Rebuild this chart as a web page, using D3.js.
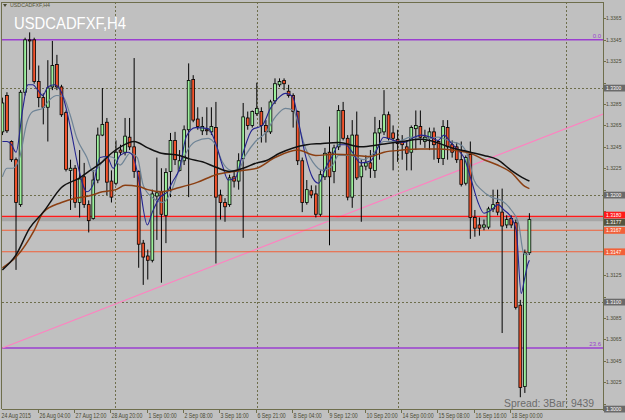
<!DOCTYPE html>
<html><head><meta charset="utf-8">
<script src="https://cdn.jsdelivr.net/npm/d3@7"></script>
<style>html,body{margin:0;padding:0;background:#C0C0C0;overflow:hidden}svg{display:block}</style>
</head><body><svg id="c" width="625" height="420"></svg>
<script>
const symbol = "USDCADFXF,H4";
const open = [1.3259,1.3293,1.3250,1.3233,1.3191,1.3296,1.3345,1.3345,1.3306,1.3291,
1.3282,1.3301,1.3322,1.3301,1.3277,1.3223,1.3225,1.3193,1.3217,1.3191,
1.3178,1.3214,1.3256,1.3268,1.3213,1.3211,1.3242,1.3240,1.3254,1.3245,
1.3222,1.3155,1.3143,1.3139,1.3199,1.3203,1.3181,1.3222,1.3251,1.3223,
1.3232,1.3261,1.3308,1.3271,1.3260,1.3261,1.3259,1.3263,1.3200,1.3193,
1.3191,1.3217,1.3213,1.3234,1.3272,1.3265,1.3276,1.3278,1.3265,1.3259,
1.3288,1.3303,1.3307,1.3297,1.3293,1.3278,1.3232,1.3193,1.3204,1.3201,
1.3182,1.3217,1.3240,1.3222,1.3245,1.3279,1.3253,1.3198,1.3256,1.3217,
1.3227,1.3230,1.3223,1.3258,1.3259,1.3275,1.3258,1.3252,1.3250,1.3245,
1.3240,1.3262,1.3264,1.3250,1.3253,1.3259,1.3250,1.3234,1.3263,1.3247,
1.3245,1.3233,1.3211,1.3238,1.3179,1.3172,1.3170,1.3170,1.3187,1.3193,
1.3184,1.3172,1.3178,1.3174,1.3097,1.3021,1.3146];
const high = [1.3291,1.3296,1.3251,1.3235,1.3298,1.3347,1.3352,1.3347,1.3321,1.3295,
1.3326,1.3344,1.3331,1.3303,1.3279,1.3233,1.3228,1.3242,1.3230,1.3195,
1.3223,1.3263,1.3300,1.3272,1.3223,1.3251,1.3247,1.3272,1.3272,1.3328,
1.3223,1.3158,1.3149,1.3205,1.3235,1.3225,1.3225,1.3258,1.3259,1.3242,
1.3265,1.3323,1.3312,1.3282,1.3273,1.3282,1.3282,1.3287,1.3205,1.3197,
1.3219,1.3222,1.3239,1.3286,1.3278,1.3279,1.3305,1.3282,1.3270,1.3289,
1.3309,1.3309,1.3309,1.3303,1.3295,1.3279,1.3235,1.3214,1.3209,1.3209,
1.3223,1.3244,1.3264,1.3247,1.3284,1.3287,1.3256,1.3270,1.3278,1.3233,
1.3237,1.3242,1.3273,1.3270,1.3298,1.3278,1.3265,1.3261,1.3256,1.3251,
1.3265,1.3279,1.3279,1.3261,1.3263,1.3263,1.3251,1.3270,1.3270,1.3251,
1.3249,1.3250,1.3237,1.3250,1.3186,1.3179,1.3177,1.3189,1.3205,1.3205,
1.3206,1.3181,1.3181,1.3177,1.3102,1.3149,1.3183];
const low = [1.3256,1.3258,1.3231,1.3130,1.3189,1.3293,1.3317,1.3304,1.3282,1.3266,
1.3250,1.3298,1.3298,1.3273,1.3222,1.3186,1.3188,1.3179,1.3188,1.3165,
1.3177,1.3211,1.3255,1.3200,1.3193,1.3209,1.3237,1.3237,1.3242,1.3216,
1.3132,1.3116,1.3121,1.3137,1.3158,1.3118,1.3155,1.3198,1.3228,1.3222,
1.3228,1.3198,1.3268,1.3261,1.3256,1.3256,1.3256,1.3136,1.3177,1.3175,
1.3189,1.3207,1.3205,1.3160,1.3261,1.3263,1.3274,1.3249,1.3249,1.3257,
1.3285,1.3301,1.3298,1.3291,1.3263,1.3228,1.3184,1.3191,1.3197,1.3179,
1.3180,1.3214,1.3153,1.3211,1.3242,1.3251,1.3195,1.3188,1.3214,1.3175,
1.3223,1.3216,1.3216,1.3233,1.3256,1.3251,1.3223,1.3231,1.3233,1.3223,
1.3223,1.3242,1.3247,1.3244,1.3242,1.3233,1.3230,1.3228,1.3233,1.3235,
1.3230,1.3208,1.3209,1.3159,1.3161,1.3162,1.3167,1.3168,1.3184,1.3181,
1.3071,1.3169,1.3169,1.3093,1.3011,1.3015,1.3144];
const close = [1.3286,1.3260,1.3233,1.3193,1.3296,1.3345,1.3344,1.3306,1.3291,1.3282,
1.3300,1.3321,1.3301,1.3275,1.3224,1.3225,1.3193,1.3215,1.3191,1.3176,
1.3214,1.3256,1.3266,1.3212,1.3198,1.3240,1.3240,1.3255,1.3245,1.3222,
1.3154,1.3142,1.3139,1.3201,1.3202,1.3182,1.3221,1.3251,1.3233,1.3232,
1.3261,1.3307,1.3270,1.3264,1.3264,1.3260,1.3264,1.3198,1.3193,1.3189,
1.3216,1.3213,1.3232,1.3273,1.3265,1.3278,1.3281,1.3265,1.3259,1.3287,
1.3304,1.3306,1.3304,1.3293,1.3278,1.3232,1.3193,1.3205,1.3200,1.3182,
1.3219,1.3239,1.3217,1.3244,1.3279,1.3253,1.3198,1.3256,1.3216,1.3227,
1.3230,1.3225,1.3258,1.3262,1.3275,1.3253,1.3253,1.3248,1.3247,1.3239,
1.3263,1.3265,1.3254,1.3254,1.3259,1.3247,1.3234,1.3264,1.3245,1.3240,
1.3233,1.3210,1.3235,1.3179,1.3169,1.3169,1.3172,1.3187,1.3191,1.3184,
1.3171,1.3177,1.3172,1.3095,1.3020,1.3146,1.3177];

// moving averages: [bar index, price]
const maSlow = [[0,1.3130],[3,1.3144],[6,1.3169],[9,1.3184],[13,1.3207],[17,1.3216],[19,1.3222],[22,1.3231],[24,1.3239],[26,1.3245],[29,1.3250],[32,1.3244],[35,1.3239],[39,1.3237],[41,1.3234],[44,1.3231],[47,1.3226],[50,1.3222],[53,1.3225],[56,1.3230],[58,1.3232],[61,1.3239],[64,1.3244],[67,1.3247],[70,1.3248],[74,1.3249],[79,1.3245],[83,1.3247],[88,1.3250],[92,1.3252],[94,1.3251],[99,1.3244],[103,1.3240],[106,1.3237],[109,1.3233],[112,1.3223],[115,1.3215],[116,1.3213]];
const maBrown = [[0,1.3132],[3,1.3142],[7,1.3167],[9,1.3184],[13,1.3193],[16,1.3197],[19,1.3199],[22,1.3203],[25,1.3205],[27,1.3209],[30,1.3208],[32,1.3205],[35,1.3203],[39,1.3207],[43,1.3212],[47,1.3219],[51,1.3222],[56,1.3225],[60,1.3235],[65,1.3242],[69,1.3237],[73,1.3238],[78,1.3237],[81,1.3236],[84,1.3240],[88,1.3242],[92,1.3243],[96,1.3243],[99,1.3242],[103,1.3239],[106,1.3233],[109,1.3228],[112,1.3221],[115,1.3208],[116,1.3206]];
const maFast = [[0,1.3250],[1,1.3250],[2,1.3247],[3,1.3240],[4.5,1.3281],[5.6,1.3303],[6.7,1.3303],[7.8,1.3298],[8.9,1.3293],[10,1.3301],[11.5,1.3303],[13,1.3296],[14.2,1.3278],[15.3,1.3256],[16.6,1.3228],[18.6,1.3203],[19.9,1.3209],[21.5,1.3235],[23,1.3236],[24.4,1.3225],[25.9,1.3237],[27.7,1.3240],[28.8,1.3236],[29.9,1.3217],[31.9,1.3172],[33,1.3184],[34.7,1.3198],[36.3,1.3203],[37.4,1.3212],[39,1.3225],[40.5,1.3255],[42.5,1.3263],[45.3,1.3262],[46.9,1.3249],[48.4,1.3228],[49.7,1.3214],[51.3,1.3216],[52.8,1.3237],[55,1.3261],[57.2,1.3265],[59,1.3281],[60.8,1.3291],[62.3,1.3295],[63.9,1.3292],[65.2,1.3268],[66.7,1.3237],[68.3,1.3216],[69.6,1.3211],[71.2,1.3226],[72.7,1.3237],[74,1.3247],[75.6,1.3247],[76.7,1.3242],[78.9,1.3230],[81.1,1.3232],[82.6,1.3244],[83.9,1.3254],[86.2,1.3251],[88.4,1.3249],[90.6,1.3254],[92.1,1.3256],[94.3,1.3254],[95.9,1.3251],[97.2,1.3256],[98.7,1.3249],[100.3,1.3242],[101.6,1.3235],[103.2,1.3214],[104.7,1.3193],[106,1.3183],[107.6,1.3186],[109.1,1.3191],[110.4,1.3186],[112,1.3179],[113.1,1.3167],[114.2,1.3108],[114.9,1.3121],[115.7,1.3136],[116,1.3139]];
const maMid = [[0,1.3217],[1,1.3225],[2.3,1.3225],[3.8,1.3235],[5.4,1.3268],[6.7,1.3278],[8.9,1.3281],[10.4,1.3289],[12,1.3293],[13.3,1.3292],[14.9,1.3275],[16.4,1.3253],[18.6,1.3235],[19.9,1.3222],[21.5,1.3228],[23,1.3236],[24.4,1.3235],[25.9,1.3228],[28.1,1.3239],[29.7,1.3235],[31,1.3209],[33.2,1.3197],[35.4,1.3193],[37,1.3202],[39,1.3225],[40.5,1.3240],[42.5,1.3250],[45.3,1.3253],[46.9,1.3247],[48.4,1.3231],[50.2,1.3223],[51.7,1.3222],[53.5,1.3237],[55.7,1.3250],[57.9,1.3258],[60.1,1.3273],[62.3,1.3281],[64.1,1.3279],[65.2,1.3265],[66.7,1.3244],[68.3,1.3231],[70.5,1.3223],[72.7,1.3228],[74,1.3237],[76.5,1.3237],[79.5,1.3233],[81.7,1.3239],[83.9,1.3250],[87,1.3250],[89.9,1.3254],[92.8,1.3252],[95.9,1.3254],[98.7,1.3250],[100.9,1.3247],[102.5,1.3236],[103.8,1.3214],[105.4,1.3205],[107.6,1.3198],[109.8,1.3195],[112,1.3186],[113.6,1.3174],[114.7,1.3146],[115.4,1.3144],[116,1.3146]];

const dateLabels = ["24 Aug 2015","26 Aug 04:00","27 Aug 12:00","28 Aug 20:00","1 Sep 00:00","2 Sep 08:00","3 Sep 16:00","6 Sep 21:00","8 Sep 04:00","9 Sep 12:00","10 Sep 20:00","14 Sep 00:00","15 Sep 08:00","16 Sep 16:00","18 Sep 00:00"];
const dateBars = [0,8,16,24,32,40,48,56,64,72,80,88,96,104,112];
const priceTicks = [1.3005,1.3025,1.3045,1.3065,1.3085,1.3105,1.3125,1.3145,1.3165,1.3185,1.3205,1.3225,1.3245,1.3265,1.3285,1.3305,1.3325,1.3345,1.3365];
const roundLevels = [1.3300,1.3200,1.3100,1.3000];
const gridBars = [24.8,56,87,124];
const fibLevels = [{name:"0.0",price:1.3345},{name:"23.6",price:1.3057}];
const trendBars = [0,132.5], trendPrices = [1.3057,1.3276];
const hLines = [
  {price:1.3167,label:"1.3167",color:"#F26139",w:1.1,bg:"#F26139",dy:0},
  {price:1.3147,label:"1.3147",color:"#F26139",w:1.1,bg:"#F26139",dy:0},
  {price:1.3180,label:"1.3180",color:"#FF1A1A",w:1.5,bg:"#FF1A1A",dy:-1.4},
  {price:1.3177,label:"1.3177",color:"#A6A6A6",w:3.5,bg:"#55553F",dy:2.6}
];
const spreadText = "Spread: 3", barText = "Bar: 9439";

const svg = d3.select("#c");
const W=625,H=420, L=2, R=603, T=2, B=409;
const x = d3.scaleLinear().domain([0,116]).range([2.4,529.4]);
const y = d3.scaleLinear().domain([1.30,1.34]).range([409,-19]);
const olive = "#6E6E4C";

svg.append("rect").attr("width",W).attr("height",H).attr("fill","#C0C0C0");
svg.append("defs").append("clipPath").attr("id","clip").append("rect")
  .attr("x",L).attr("y",T).attr("width",R-L).attr("height",B-T);
const plot = svg.append("g").attr("clip-path","url(#clip)");

// grid
plot.selectAll(".hg").data(roundLevels.slice(0,3)).enter().append("line")
  .attr("x1",L).attr("x2",R).attr("y1",d=>Math.round(y(d))+0.5).attr("y2",d=>Math.round(y(d))+0.5)
  .attr("stroke",olive).attr("stroke-dasharray","2,2").attr("stroke-width",1);
plot.selectAll(".vg").data(gridBars).enter().append("line")
  .attr("y1",T).attr("y2",B).attr("x1",d=>Math.round(x(d))+0.5).attr("x2",d=>Math.round(x(d))+0.5)
  .attr("stroke",olive).attr("stroke-dasharray","2,2").attr("stroke-width",1);

// objects
fibLevels.forEach(f=>{
  plot.append("line").attr("x1",L).attr("x2",R).attr("y1",y(f.price)).attr("y2",y(f.price))
    .attr("stroke","#9B3FD0").attr("stroke-width",1.5);
});
plot.append("line").attr("x1",x(trendBars[0])).attr("x2",x(trendBars[1]))
  .attr("y1",y(trendPrices[0])).attr("y2",y(trendPrices[1]))
  .attr("stroke","#FF80C0").attr("stroke-width",1.1);
hLines.forEach(h=>{
  plot.append("line").attr("x1",L).attr("x2",R).attr("y1",y(h.price)).attr("y2",y(h.price))
    .attr("stroke",h.color).attr("stroke-width",h.w);
});

// candles
const idx = d3.range(open.length);
const cg = plot.append("g");
cg.selectAll(".wick").data(idx).enter().append("line")
  .attr("x1",i=>x(i)).attr("x2",i=>x(i)).attr("y1",i=>y(high[i])).attr("y2",i=>y(low[i]))
  .attr("stroke","#000").attr("stroke-width",1);
cg.selectAll(".body").data(idx).enter().append("rect")
  .attr("x",i=>x(i)-1.4).attr("width",2.8)
  .attr("y",i=>y(Math.max(open[i],close[i])))
  .attr("height",i=>Math.max(0.8,Math.abs(y(open[i])-y(close[i]))))
  .attr("fill",i=>close[i]>=open[i]?"#9CF09C":"#F4532C")
  .attr("stroke","#000").attr("stroke-width",0.8);

// moving averages
const line = d3.line().x(d=>x(d[0])).y(d=>y(d[1])).curve(d3.curveMonotoneX);
plot.append("path").datum(maMid).attr("d",line).attr("fill","none").attr("stroke","#6F8496").attr("stroke-width",1.2);
plot.append("path").datum(maFast).attr("d",line).attr("fill","none").attr("stroke","#24248F").attr("stroke-width",1.1);
plot.append("path").datum(maBrown).attr("d",line).attr("fill","none").attr("stroke","#8B3F12").attr("stroke-width",1.5);
plot.append("path").datum(maSlow).attr("d",line).attr("fill","none").attr("stroke","#111").attr("stroke-width",1.5);

// fib labels
fibLevels.forEach(f=>{
  svg.append("text").attr("x",601).attr("y",y(f.price)-2).attr("text-anchor","end")
    .attr("font-family","Liberation Sans, Arial, sans-serif").attr("font-size","6px")
    .attr("fill","#9B3FD0").text(f.name);
});

// frame
svg.append("line").attr("x1",L).attr("x2",R).attr("y1",2.5).attr("y2",2.5).attr("stroke",olive);
svg.append("line").attr("x1",1.5).attr("x2",1.5).attr("y1",T).attr("y2",B).attr("stroke",olive);
svg.append("line").attr("x1",R+0.5).attr("x2",R+0.5).attr("y1",T).attr("y2",B+2).attr("stroke",olive);
svg.append("line").attr("x1",L).attr("x2",R).attr("y1",B+0.5).attr("y2",B+0.5).attr("stroke",olive);

const font = "Liberation Sans, Arial, sans-serif";
function squeeze(sel, ratio){ sel.each(function(){ const n=this.getComputedTextLength(); d3.select(this).attr("textLength",n*ratio).attr("lengthAdjust","spacingAndGlyphs"); }); }

// price axis
const pa = svg.append("g");
const boxPrices = roundLevels.concat(hLines.map(h=>h.price));
priceTicks.forEach(p=>{
  const yy = y(p);
  pa.append("line").attr("x1",R).attr("x2",R+3).attr("y1",Math.round(yy)+0.5).attr("y2",Math.round(yy)+0.5).attr("stroke",olive);
  const hidden = boxPrices.some(b=>Math.abs(y(b)-yy)<5.5);
  if(!hidden) pa.append("text").attr("x",606).attr("y",yy+1.8).attr("font-family",font).attr("font-size","6.2px")
    .attr("fill","#4A4A33").text(p.toFixed(4)).call(squeeze,0.82);
});
function box(p,label,bg,dy){
  const yy=y(p)+(dy||0);
  pa.append("rect").attr("x",R+1).attr("y",yy-3.3).attr("width",22).attr("height",6.8).attr("fill",bg);
  pa.append("text").attr("x",606).attr("y",yy+2).attr("font-family",font).attr("font-size","6px")
    .attr("fill","#FFFFFF").text(label).call(squeeze,0.84);
}
roundLevels.forEach(p=>box(p,p.toFixed(4),"#6A6A6A",0));
hLines.forEach(h=>box(h.price,h.label,h.bg,h.dy));

// date axis
const da = svg.append("g");
dateLabels.forEach((lab,k)=>{
  const b = dateBars[k];
  const xx = k===0 ? 1.5 : Math.round(x(b-0.25))+0.5;
  if(k>0) da.append("line").attr("x1",xx).attr("x2",xx).attr("y1",B).attr("y2",B+4).attr("stroke",olive);
  da.append("text").attr("x",xx+ (k===0?0:1)).attr("y",417.8).attr("font-family",font).attr("font-size","6.4px")
    .attr("fill","#4A4A33").text(lab).call(squeeze,0.82);
});

// titles
svg.append("path").attr("d","M3,4 L7,4 L5,7 Z").attr("fill","#4A4A33");
svg.append("text").attr("x",10).attr("y",7.3).attr("font-family",font).attr("font-size","5.8px")
  .attr("fill","#55553A").text(symbol).attr("textLength",40).attr("lengthAdjust","spacingAndGlyphs");
svg.append("text").attr("x",14).attr("y",28.5).attr("font-family",font).attr("font-size","17px")
  .attr("fill","#FFFFFF").text(symbol).attr("textLength",112).attr("lengthAdjust","spacingAndGlyphs");

// spread / bar info
svg.append("text").attr("x",504).attr("y",407).attr("font-family",font).attr("font-size","11px")
  .attr("fill","#6C6C6C").text(spreadText + barText)
  .attr("textLength",90).attr("lengthAdjust","spacingAndGlyphs");
</script></body></html>
